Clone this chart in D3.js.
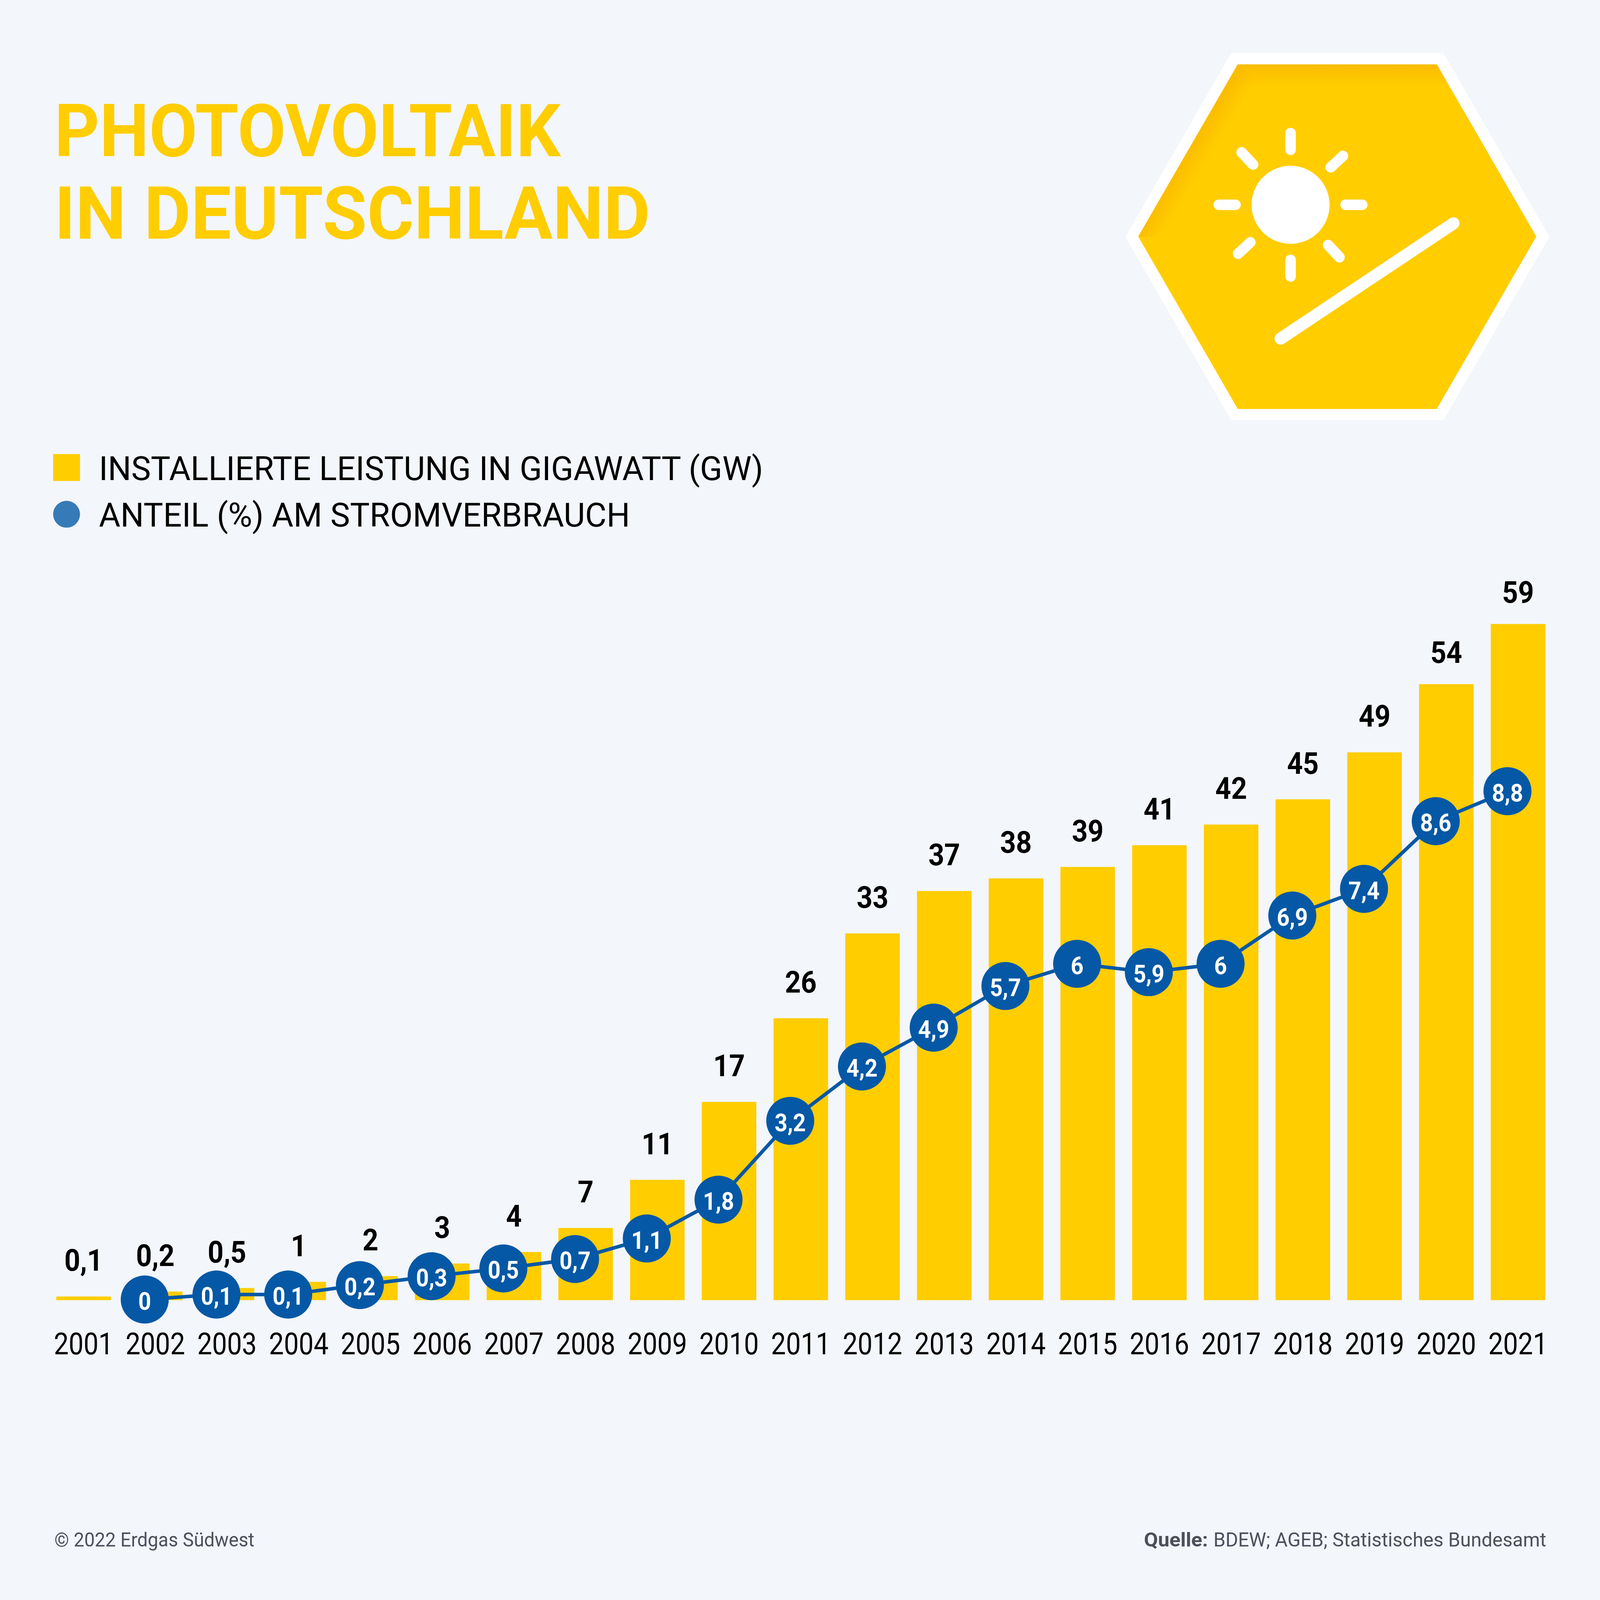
<!DOCTYPE html>
<html>
<head>
<meta charset="utf-8">
<script src="https://cdnjs.cloudflare.com/ajax/libs/d3/7.8.5/d3.min.js"></script>
<style>
	html, body { margin: 0; padding: 0; background: #f3f6fb; overflow: hidden; }
	svg { display: block; }
	text { font-family: Roboto, "Liberation Sans", sans-serif; }
</style>
</head>
<body>
<div id="chart"></div>
<script>
var years = ['2001', '2002', '2003', '2004', '2005', '2006', '2007', '2008', '2009', '2010', '2011',
	'2012', '2013', '2014', '2015', '2016', '2017', '2018', '2019', '2020', '2021'];

// bar heights as measured in the picture (GW), the printed labels are rounded
var leistung = [0.32, 0.75, 1.06, 1.6, 2.1, 3.2, 4.2, 6.3, 10.5, 17.3, 24.6,
	32, 35.7, 36.8, 37.8, 39.7, 41.5, 43.7, 47.8, 53.75, 59];
var leistungLabels = ['0,1', '0,2', '0,5', '1', '2', '3', '4', '7', '11', '17', '26',
	'33', '37', '38', '39', '41', '42', '45', '49', '54', '59'];

// share of consumption (%) as measured, no point for 2001
var anteil = [null, 0, 0.09, 0.09, 0.26, 0.42, 0.56, 0.73, 1.1, 1.8, 3.22,
	4.2, 4.9, 5.65, 6.05, 5.9, 6.05, 6.92, 7.4, 8.62, 9.16];
var anteilLabels = ['', '0', '0,1', '0,1', '0,2', '0,3', '0,5', '0,7', '1,1', '1,8', '3,2',
	'4,2', '4,9', '5,7', '6', '5,9', '6', '6,9', '7,4', '8,6', '8,8'];

var titleLines = ['PHOTOVOLTAIK', 'IN DEUTSCHLAND'];
var titleWidths = [1582, 1862];
var legendItems = ['INSTALLIERTE LEISTUNG IN GIGAWATT (GW)', 'ANTEIL (%) AM STROMVERBRAUCH'];
var legendWidths = [2076, 1660];

var yellow = '#ffcd00';
var blue = '#0558a5';

// the window can be smaller than the 5000 px artboard
var svg = d3.select('#chart').append('svg')
	.attr('width', window.innerWidth)
	.attr('height', window.innerHeight)
	.attr('viewBox', '0 0 5000 5000')
	.style('background', '#f3f6fb');

// squeeze glyphs to the narrower width of the original typeface
function squeeze(selection, factor) {
	selection.each(function() {
		d3.select(this)
			.attr('textLength', this.getComputedTextLength() * factor)
			.attr('lengthAdjust', 'spacingAndGlyphs');
	});
}

var x = d3.scaleBand()
	.domain(years)
	.range([176, 4829])
	.paddingInner(0.24)
	.paddingOuter(0);

var y = d3.scaleLinear().domain([0, 59]).range([4063, 1950]);
var yShare = d3.scaleLinear().domain([0, 8.8]).range([4061, 2535]);

//Title
svg.selectAll('text.title')
	.data(titleLines)
	.enter().append('text')
	.attr('class', 'title')
	.attr('x', 170)
	.attr('y', function(d, i) { return 488 + i * 258; })
	.attr('textLength', function(d, i) { return titleWidths[i]; })
	.attr('lengthAdjust', 'spacingAndGlyphs')
	.style('font-size', '229px')
	.style('font-weight', 700)
	.style('fill', yellow)
	.text(function(d) { return d; });

//Legend
svg.append('rect')
	.attr('x', 166).attr('y', 1419)
	.attr('width', 84).attr('height', 84)
	.style('fill', yellow);
svg.append('circle')
	.attr('cx', 208).attr('cy', 1607).attr('r', 42)
	.style('fill', '#377ab8');
svg.selectAll('text.legend')
	.data(legendItems)
	.enter().append('text')
	.attr('class', 'legend')
	.attr('x', 309)
	.attr('y', function(d, i) { return 1500 + i * 146; })
	.attr('textLength', function(d, i) { return legendWidths[i]; })
	.attr('lengthAdjust', 'spacingAndGlyphs')
	.style('font-size', '105px')
	.style('fill', '#000')
	.text(function(d) { return d; });

//Icon. Hexagon with a soft darker edge on the upper left.
var defs = svg.append('defs');
var topShade = defs.append('linearGradient').attr('id', 'topShade')
	.attr('x1', 0).attr('y1', 0).attr('x2', 0).attr('y2', 1);
topShade.append('stop').attr('offset', 0).style('stop-color', '#fbbc00');
topShade.append('stop').attr('offset', 1).style('stop-color', '#fbbc00').style('stop-opacity', 0);
var leftShade = defs.append('linearGradient').attr('id', 'leftShade')
	.attr('gradientUnits', 'userSpaceOnUse')
	.attr('x1', 3712).attr('y1', 470).attr('x2', 3770).attr('y2', 505);
leftShade.append('stop').attr('offset', 0).style('stop-color', '#fbbc00');
leftShade.append('stop').attr('offset', 1).style('stop-color', '#fbbc00').style('stop-opacity', 0);

var hexOuter = [[3847, 166], [4511, 166], [4842, 740], [4511, 1313], [3847, 1313], [3517, 740]];
var hexInner = [[3868, 201], [4490, 201], [4801, 739], [4490, 1278], [3868, 1278], [3557, 739]];
var hexPath = d3.line();

defs.append('clipPath').attr('id', 'hexClip')
	.append('path').attr('d', hexPath(hexInner) + 'Z');

svg.append('path').attr('d', hexPath(hexOuter) + 'Z').style('fill', '#fff');
svg.append('path').attr('d', hexPath(hexInner) + 'Z').style('fill', yellow);
var shade = svg.append('g').attr('clip-path', 'url(#hexClip)');
shade.append('rect')
	.attr('x', 3557).attr('y', 201).attr('width', 1244).attr('height', 70)
	.style('fill', 'url(#topShade)');
shade.append('path')
	.attr('d', hexPath([[3868, 201], [3557, 739], [3700, 739], [3960, 290]]) + 'Z')
	.style('fill', 'url(#leftShade)');

var sunX = 4033;
var sunY = 640;
svg.append('circle')
	.attr('cx', sunX).attr('cy', sunY).attr('r', 122)
	.style('fill', '#fff');

// rays, the diagonal ones sit slightly off 45 degrees
var rayAngles = [0, 90, 180, 270, 47, 137, 227, 317];
svg.selectAll('line.ray')
	.data(rayAngles)
	.enter().append('line')
	.attr('class', 'ray')
	.attr('x1', function(d) { return sunX + 172 * Math.sin(d * Math.PI / 180); })
	.attr('y1', function(d) { return sunY - 172 * Math.cos(d * Math.PI / 180); })
	.attr('x2', function(d) { return sunX + 224 * Math.sin(d * Math.PI / 180); })
	.attr('y2', function(d) { return sunY - 224 * Math.cos(d * Math.PI / 180); })
	.style('stroke', '#fff')
	.style('stroke-width', 33)
	.style('stroke-linecap', 'round');

svg.append('line')
	.attr('x1', 4002).attr('y1', 1058)
	.attr('x2', 4542).attr('y2', 698)
	.style('stroke', '#fff')
	.style('stroke-width', 38)
	.style('stroke-linecap', 'round');

//Bars
var rows = years.map(function(year, i) {
	return {
		year: year,
		value: leistung[i],
		label: leistungLabels[i],
		share: anteil[i],
		shareLabel: anteilLabels[i]
	};
});

svg.selectAll('rect.bar')
	.data(rows)
	.enter().append('rect')
	.attr('class', 'bar')
	.attr('x', function(d) { return x(d.year); })
	.attr('y', function(d) { return y(d.value); })
	.attr('width', x.bandwidth())
	.attr('height', function(d) { return y(0) - y(d.value); })
	.style('fill', yellow);

// the two tallest labels sit closer to their bars in the original
svg.selectAll('text.barLabel')
	.data(rows)
	.enter().append('text')
	.attr('class', 'barLabel')
	.attr('x', function(d) { return x(d.year) + x.bandwidth() / 2; })
	.attr('y', function(d) { return y(d.value) - (d.value > 50 ? 67 : 80); })
	.attr('text-anchor', 'middle')
	.style('font-size', '96px')
	.style('font-weight', 700)
	.style('fill', '#000')
	.text(function(d) { return d.label; })
	.call(squeeze, 0.9);

//Year axis, only the labels are visible
var xAxis = svg.append('g')
	.attr('transform', 'translate(0,4063)')
	.call(d3.axisBottom(x).tickSize(0).tickPadding(169));
xAxis.select('.domain').remove();
xAxis.selectAll('text')
	.attr('dy', 0)
	.style('font-family', 'Roboto, "Liberation Sans", sans-serif')
	.style('font-size', '94px')
	.style('fill', '#000')
	.attr('textLength', 186)
	.attr('lengthAdjust', 'spacingAndGlyphs');

//Share line, the points sit a little left of the bar centres
var shareX = function(d) { return x(d.year) + x.bandwidth() / 2 - 33; };
var points = rows.filter(function(d) { return d.share !== null; });

var shareLine = d3.line()
	.x(shareX)
	.y(function(d) { return yShare(d.share); });

svg.append('path')
	.datum(points)
	.attr('d', shareLine)
	.style('fill', 'none')
	.style('stroke', blue)
	.style('stroke-width', 11);

svg.selectAll('circle.point')
	.data(points)
	.enter().append('circle')
	.attr('class', 'point')
	.attr('cx', shareX)
	.attr('cy', function(d) { return yShare(d.share); })
	.attr('r', 75)
	.style('fill', blue);

svg.selectAll('text.pointLabel')
	.data(points)
	.enter().append('text')
	.attr('class', 'pointLabel')
	.attr('x', shareX)
	.attr('y', function(d) { return yShare(d.share) + 32; })
	.attr('text-anchor', 'middle')
	.style('font-size', '76px')
	.style('font-weight', 700)
	.style('fill', '#fff')
	.text(function(d) { return d.shareLabel; })
	.call(squeeze, 0.92);

//Footer
svg.append('text')
	.attr('x', 170).attr('y', 4833)
	.attr('textLength', 625)
	.attr('lengthAdjust', 'spacingAndGlyphs')
	.style('font-size', '62px')
	.style('fill', '#4d4f5c')
	.text('© 2022 Erdgas Südwest');

svg.append('text')
	.attr('x', 3575).attr('y', 4833)
	.attr('textLength', 200)
	.attr('lengthAdjust', 'spacingAndGlyphs')
	.style('font-size', '62px')
	.style('font-weight', 700)
	.style('fill', '#4d4f5c')
	.text('Quelle:');

svg.append('text')
	.attr('x', 3792).attr('y', 4833)
	.attr('textLength', 1040)
	.attr('lengthAdjust', 'spacingAndGlyphs')
	.style('font-size', '62px')
	.style('fill', '#4d4f5c')
	.text('BDEW; AGEB; Statistisches Bundesamt');
</script>
</body>
</html>
